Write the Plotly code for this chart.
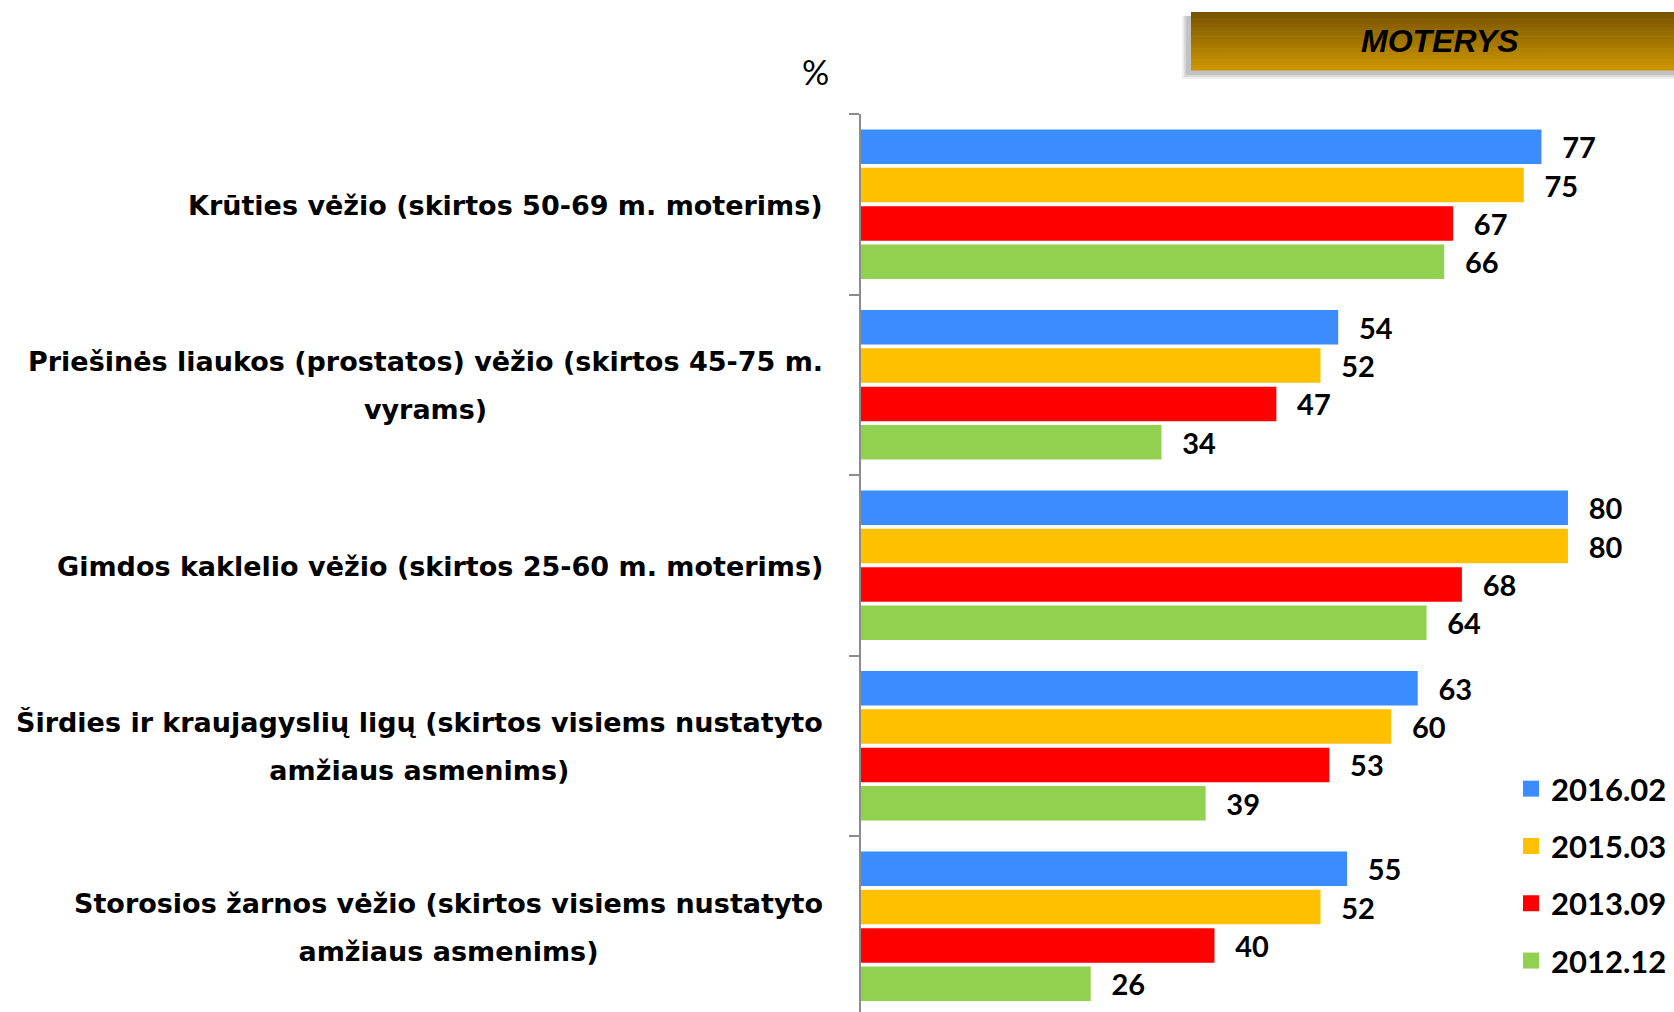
import plotly.graph_objects as go

# ------------------------------------------------------------
# DATA
# ------------------------------------------------------------
categories = [
    "Krūties vėžio (skirtos 50-69 m. moterims)",
    "Priešinės liaukos (prostatos) vėžio (skirtos 45-75 m.<br>vyrams)",
    "Gimdos kaklelio vėžio (skirtos 25-60 m. moterims)",
    "Širdies ir kraujagyslių ligų (skirtos visiems nustatyto<br>amžiaus asmenims)",
    "Storosios žarnos vėžio (skirtos visiems nustatyto<br>amžiaus asmenims)",
]
series_names = ["2016.02", "2015.03", "2013.09", "2012.12"]
v_2016_02 = [77, 54, 80, 63, 55]
v_2015_03 = [75, 52, 80, 60, 52]
v_2013_09 = [67, 47, 68, 53, 40]
v_2012_12 = [66, 34, 64, 39, 26]
series_values = [v_2016_02, v_2015_03, v_2013_09, v_2012_12]
colors = ["#3a8cff", "#ffc000", "#ff0000", "#92d050"]

title_box = "MOTERYS"
unit_label = "%"

# ------------------------------------------------------------
# LAYOUT HELPERS (pixel -> paper)
# ------------------------------------------------------------
W, H = 1674, 1012
M_L, M_R, M_T, M_B = 861, 0, 114, 0
PW, PH = W - M_L - M_R, H - M_T - M_B


def px_x(px):
    return (px - M_L) / PW


def px_y(py):
    return 1 - (py - M_T) / PH


FONT = "Lato"
CAT_FONT = "DejaVu Sans"

fig = go.Figure()

for name, vals, col in zip(series_names, series_values, colors):
    fig.add_trace(go.Bar(
        y=categories,
        x=vals,
        orientation="h",
        name=name,
        marker=dict(color=col, line=dict(width=0)),
        text=vals,
        texttemplate="\u00a0\u00a0\u2009%{x}",
        textposition="outside",
        constraintext="none",
        cliponaxis=False,
        textfont=dict(family=FONT, size=29, color="black", weight="bold"),
        showlegend=False,
    ))

# legend-only markers (bigger squares than the default bar icon)
for name, col in zip(series_names, colors):
    fig.add_trace(go.Scatter(
        x=[None], y=[None], mode="markers", name=name, legendgroup=name,
        marker=dict(symbol="square", size=16, color=col),
    ))

# category labels: big annotation font sets the line spacing, span sets glyph size
for cat in categories:
    lines = cat.split("<br>")
    txt = "<br>".join('<span style="font-size:27px">%s</span>' % ln for ln in lines)
    fig.add_annotation(
        x=0, xref="paper", xanchor="right", xshift=-36,
        y=cat, yref="y", yanchor="middle", yshift=-1,
        text=txt, showarrow=False, align="center",
        font=dict(family=CAT_FONT, size=37, color="black", weight="bold"),
    )

fig.add_annotation(
    x=px_x(815), y=px_y(72), xref="paper", yref="paper",
    xanchor="center", yanchor="middle", text=unit_label, showarrow=False,
    font=dict(family=FONT, size=34, color="black"),
)

# MOTERYS box: soft shadow + vertical gradient
bx0, bx1, by0, by1 = 1191, 1674, 12, 70
for d, a in [(9, 0.10), (7, 0.14), (5, 0.18)]:
    fig.add_shape(type="rect", xref="paper", yref="paper",
                  x0=px_x(bx0 - d), x1=px_x(bx1), y0=px_y(by1 + d), y1=px_y(by0 + 4),
                  fillcolor="rgba(90,90,90,%.2f)" % a, line=dict(width=0))
c_top, c_bot = (0x78, 0x54, 0x00), (0xcc, 0x96, 0x00)
n = 24
for i in range(n):
    t = i / (n - 1)
    c = tuple(int(round(a + (b - a) * t)) for a, b in zip(c_top, c_bot))
    ya = by0 + (by1 - by0) * i / n
    yb = by0 + (by1 - by0) * (i + 1) / n
    fig.add_shape(type="rect", xref="paper", yref="paper",
                  x0=px_x(bx0), x1=px_x(bx1), y0=px_y(yb + 0.5), y1=px_y(ya),
                  fillcolor="rgb(%d,%d,%d)" % c, line=dict(width=0))
fig.add_annotation(
    x=px_x(1440), y=px_y((by0 + by1) / 2), xref="paper", yref="paper",
    xanchor="center", yanchor="middle", text="<i>" + title_box + "</i>", showarrow=False,
    font=dict(family="Liberation Sans", size=32, color="black", weight="bold"),
)

fig.update_layout(
    width=W, height=H,
    margin=dict(l=M_L, r=M_R, t=M_T, b=M_B, pad=0),
    paper_bgcolor="white", plot_bgcolor="white",
    barmode="group", bargap=0.15, bargroupgap=0.1,
    xaxis=dict(range=[0, 92.0], visible=False, fixedrange=True),
    yaxis=dict(
        range=[4.475, -0.5], showticklabels=False,
        showline=True, linecolor="#8c8c8c", linewidth=2,
        ticks="outside", ticklen=10, tickcolor="#8c8c8c", tickwidth=2,
        tickson="boundaries", showgrid=False, zeroline=False, fixedrange=True,
    ),
    legend=dict(
        x=px_x(1511), y=px_y(762), xanchor="left", yanchor="top",
        traceorder="grouped", tracegroupgap=14,
        font=dict(family=FONT, size=31, color="black", weight="bold"),
        bgcolor="rgba(0,0,0,0)", itemwidth=30,
    ),
)

# page body margin off so the figure fills the window exactly
fig.write_html(
    "out.html",
    config={"displayModeBar": False},
    post_script="document.body.style.margin='0';document.body.style.overflow='hidden';",
)
